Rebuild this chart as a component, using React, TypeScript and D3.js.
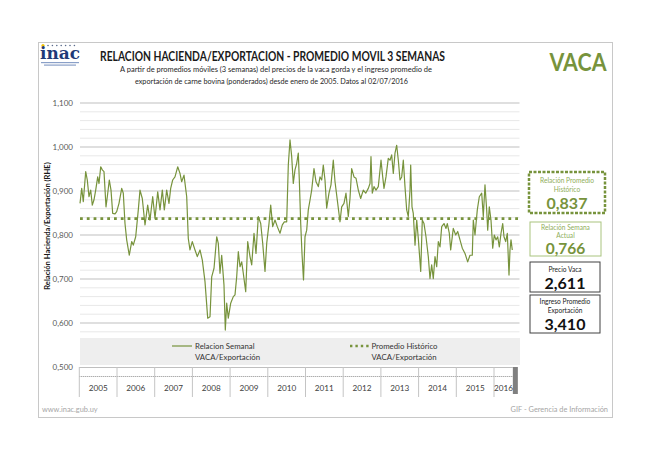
import React from 'react';
import * as d3 from 'd3';

// Weekly relation (3-week moving average): decimal year, value
const weekYears = [
  2005.019, 2005.064, 2005.106, 2005.170, 2005.212, 2005.257, 2005.302, 2005.345, 2005.390, 2005.435,
  2005.488, 2005.523, 2005.568, 2005.610, 2005.655, 2005.708, 2005.743, 2005.796, 2005.841, 2005.886,
  2005.947, 2005.992, 2006.053, 2006.125, 2006.167, 2006.212, 2006.257, 2006.326, 2006.390, 2006.432,
  2006.496, 2006.565, 2006.610, 2006.671, 2006.743, 2006.814, 2006.875, 2006.947, 2007.008, 2007.080,
  2007.141, 2007.202, 2007.255, 2007.318, 2007.379, 2007.424, 2007.477, 2007.538, 2007.610, 2007.671,
  2007.716, 2007.777, 2007.849, 2007.891, 2007.936, 2007.997, 2008.069, 2008.130, 2008.202, 2008.263,
  2008.334, 2008.406, 2008.467, 2008.512, 2008.573, 2008.645, 2008.687, 2008.732, 2008.777, 2008.838,
  2008.873, 2008.910, 2008.952, 2009.016, 2009.085, 2009.130, 2009.175, 2009.218, 2009.263, 2009.308,
  2009.350, 2009.414, 2009.467, 2009.528, 2009.573, 2009.634, 2009.687, 2009.748, 2009.812, 2009.865,
  2009.926, 2009.971, 2010.032, 2010.077, 2010.130, 2010.191, 2010.252, 2010.324, 2010.385, 2010.438,
  2010.501, 2010.544, 2010.589, 2010.634, 2010.676, 2010.721, 2010.767, 2010.809, 2010.836, 2010.873,
  2010.907, 2010.947, 2010.987, 2011.032, 2011.074, 2011.119, 2011.164, 2011.225, 2011.279, 2011.340,
  2011.385, 2011.430, 2011.472, 2011.517, 2011.562, 2011.623, 2011.676, 2011.737, 2011.783, 2011.844,
  2011.915, 2011.960, 2012.021, 2012.074, 2012.135, 2012.180, 2012.225, 2012.286, 2012.340, 2012.401,
  2012.464, 2012.533, 2012.597, 2012.666, 2012.711, 2012.737, 2012.772, 2012.817, 2012.870, 2012.931,
  2013.003, 2013.048, 2013.082, 2013.135, 2013.196, 2013.241, 2013.286, 2013.329, 2013.374, 2013.419,
  2013.462, 2013.507, 2013.552, 2013.594, 2013.639, 2013.684, 2013.727, 2013.772, 2013.790, 2013.825,
  2013.859, 2013.905, 2013.950, 2013.992, 2014.056, 2014.098, 2014.143, 2014.196, 2014.257, 2014.302,
  2014.347, 2014.390, 2014.435, 2014.480, 2014.523, 2014.568, 2014.613, 2014.674, 2014.727, 2014.761,
  2014.814, 2014.851, 2014.920, 2014.984, 2015.037, 2015.098, 2015.159, 2015.231, 2015.302, 2015.363,
  2015.424, 2015.451, 2015.496, 2015.557, 2015.610, 2015.674, 2015.716, 2015.761, 2015.806, 2015.833,
  2015.875, 2015.920, 2015.966, 2016.008, 2016.053, 2016.098, 2016.141, 2016.186, 2016.231, 2016.265,
  2016.310, 2016.353, 2016.398, 2016.424, 2016.451, 2016.485,
];
const rhe = [
  0.872, 0.906, 0.876, 0.944, 0.925, 0.887, 0.902, 0.868, 0.880, 0.902,
  0.932, 0.917, 0.955, 0.948, 0.944, 0.864, 0.887, 0.925, 0.902, 0.849,
  0.848, 0.853, 0.872, 0.906, 0.895, 0.826, 0.789, 0.754, 0.785, 0.777,
  0.796, 0.857, 0.902, 0.883, 0.823, 0.868, 0.834, 0.887, 0.838, 0.898,
  0.857, 0.902, 0.857, 0.902, 0.872, 0.906, 0.925, 0.932, 0.955, 0.940,
  0.921, 0.936, 0.887, 0.792, 0.766, 0.785, 0.766, 0.751, 0.766, 0.743,
  0.694, 0.611, 0.614, 0.705, 0.724, 0.796, 0.781, 0.713, 0.754, 0.686,
  0.584, 0.645, 0.611, 0.645, 0.660, 0.664, 0.705, 0.762, 0.728, 0.739,
  0.713, 0.671, 0.785, 0.751, 0.732, 0.804, 0.758, 0.842, 0.826, 0.781,
  0.717, 0.781, 0.826, 0.868, 0.819, 0.834, 0.819, 0.804, 0.823, 0.830,
  0.830, 0.959, 1.016, 0.978, 0.917, 0.948, 0.963, 0.986, 0.925, 0.826,
  0.758, 0.698, 0.796, 0.811, 0.857, 0.879, 0.902, 0.951, 0.921, 0.910,
  0.932, 0.925, 0.959, 0.925, 0.861, 0.895, 0.914, 0.970, 0.921, 0.879,
  0.830, 0.864, 0.872, 0.895, 0.842, 0.883, 0.951, 0.932, 0.929, 0.902,
  0.883, 0.902, 0.895, 0.906, 0.917, 0.978, 0.895, 0.910, 0.902, 0.910,
  0.970, 0.932, 0.906, 0.932, 0.974, 0.970, 0.982, 0.940, 0.986, 1.004,
  0.970, 0.925, 0.932, 0.970, 0.910, 0.857, 0.842, 0.902, 0.959, 0.864,
  0.849, 0.777, 0.834, 0.792, 0.717, 0.834, 0.826, 0.796, 0.751, 0.701,
  0.732, 0.701, 0.751, 0.728, 0.785, 0.773, 0.819, 0.826, 0.815, 0.826,
  0.804, 0.766, 0.815, 0.800, 0.808, 0.789, 0.770, 0.758, 0.739, 0.754,
  0.754, 0.834, 0.800, 0.857, 0.887, 0.895, 0.842, 0.914, 0.857, 0.811,
  0.864, 0.834, 0.770, 0.800, 0.789, 0.796, 0.773, 0.804, 0.826, 0.796,
  0.785, 0.804, 0.709, 0.766, 0.789, 0.766,
];
const historicalAverage = 0.837;
const yearLabels = ['2005', '2006', '2007', '2008', '2009', '2010', '2011', '2012', '2013', '2014', '2015', '2016'];
const yTickValues = [0.5, 0.6, 0.7, 0.8, 0.9, 1.0, 1.1];
const statTitles = [['Relación Promedio', 'Histórico'], ['Relación Semana', 'Actual'], ['Precio Vaca'], ['Ingreso Promedio', 'Exportación']];
const statValues = ['0,837', '0,766', '2,611', '3,410'];

const GREEN = '#77933C';
const FONT = 'Lato, "Open Sans", sans-serif';

export default function App() {
  const x = d3.scaleLinear().domain([2005, 2016.5]).range([79.3, 512.85]);
  const y = d3.scaleLinear().domain([0.5, 1.1]).range([367, 103]);
  const plotLeft = 80;
  const plotRight = 519.5;
  const line = d3.line<number>().x((_, i) => x(weekYears[i])).y((d) => y(d)).curve(d3.curveLinear);
  const grid = y.ticks(30).filter((v) => v > 0.5);
  const fmt = (v: number) => v.toFixed(3).replace('.', ',');

  const boxes = [
    { x: 529, y: 172, w: 76, h: 41, stroke: GREEN, sw: 2.5, dash: '3 1.5', color: GREEN, titleColor: '#8fae5a', ty: [183, 192], vy: 209, vs: 16 },
    { x: 530, y: 222, w: 71, h: 34, stroke: '#a9c47f', sw: 1, dash: undefined, color: GREEN, titleColor: '#8fae5a', ty: [229.5, 237.5], vy: 254, vs: 15.5 },
    { x: 530, y: 262, w: 70, h: 30, stroke: '#404040', sw: 1, dash: undefined, color: '#111', titleColor: '#222', ty: [272], vy: 289, vs: 16 },
    { x: 530, y: 295, w: 70, h: 38, stroke: '#404040', sw: 1, dash: undefined, color: '#111', titleColor: '#222', ty: [303.5, 312.5], vy: 330, vs: 16 },
  ];

  return (
    <svg width={658} height={465} style={{ position: 'absolute', left: 0, top: 0, background: '#fff' }} fontFamily={FONT}>
      <rect x={0} y={0} width={658} height={465} fill="#fff" />
      {/* outer frame */}
      <rect x={38.5} y={42.5} width={574} height={375} fill="none" stroke="#c8c8c8" strokeWidth={1} />

      {/* logo */}
      <g>
        <circle cx={43} cy={45.5} r={1.6} fill="#f2c200" />
        {[0, 1, 2, 3, 4, 5, 6].map((i) => (
          <circle key={i} cx={48 + i * 4.4} cy={45.5} r={0.8} fill="#5a6b8c" />
        ))}
        <text x={40} y={59} fontFamily="'DejaVu Serif', 'Liberation Serif', serif" fontWeight="bold" fontSize={17} fill="#1f3a78" textLength={40} lengthAdjust="spacingAndGlyphs">inac</text>
        <rect x={41} y={62} width={38} height={1.2} fill="#8aa0c8" />
        <rect x={44} y={64.5} width={32} height={1.2} fill="#8aa0c8" />
      </g>

      {/* title */}
      <text x={272.5} y={61} textAnchor="middle" fontWeight="bold" fontSize={13} fill="#1a1a1a" textLength={345} lengthAdjust="spacingAndGlyphs">RELACION HACIENDA/EXPORTACION - PROMEDIO MOVIL 3 SEMANAS</text>
      <text x={276} y={72} textAnchor="middle" fontSize={8.4} fill="#262626" textLength={312} lengthAdjust="spacingAndGlyphs">A partir de promedios móviles (3 semanas) del precios de la vaca gorda y el ingreso promedio de</text>
      <text x={271.5} y={84} textAnchor="middle" fontSize={8.4} fill="#262626" textLength={273} lengthAdjust="spacingAndGlyphs">exportación de carne bovina (ponderados) desde enero de 2005. Datos al 02/07/2016</text>
      <text x={578} y={71} textAnchor="middle" fontWeight="bold" fontSize={24} fill={GREEN} textLength={57} lengthAdjust="spacingAndGlyphs">VACA</text>

      {/* grid */}
      {grid.map((v) => {
        const major = Math.round(v * 100) % 10 === 0;
        return (
          <line key={v} x1={plotLeft} x2={plotRight} y1={y(v)} y2={y(v)} stroke={major ? '#d4d4d4' : '#e8e8e8'} strokeWidth={major ? 1.3 : 1} />
        );
      })}

      {/* y axis labels */}
      {yTickValues.map((v) => (
        <text key={v} x={73} y={y(v) + 3} textAnchor="end" fontSize={8} fill="#595959">{fmt(v)}</text>
      ))}
      <text transform="translate(50,226) rotate(-90)" textAnchor="middle" fontSize={7.6} fontWeight="bold" fill="#1a1a1a">Relación Hacienda/Exportación (RHE)</text>

      {/* historical average */}
      <line x1={plotLeft} x2={plotRight} y1={y(historicalAverage)} y2={y(historicalAverage)} stroke={GREEN} strokeWidth={2.8} strokeDasharray="2.8 4" />

      {/* series */}
      <path d={line(rhe) || ''} fill="none" stroke={GREEN} strokeWidth={1.2} strokeLinejoin="round" />

      {/* legend band */}
      <rect x={80} y={338} width={440} height={27} fill="#eeeeee" />
      <line x1={172} x2={192} y1={346} y2={346} stroke={GREEN} strokeWidth={1.2} />
      <text x={195} y={349} fontSize={7.8} fill="#333">Relacion Semanal</text>
      <text x={195} y={360} fontSize={7.8} fill="#333">VACA/Exportación</text>
      <line x1={350} x2={370} y1={346} y2={346} stroke={GREEN} strokeWidth={2.4} strokeDasharray="2.4 3" />
      <text x={371.5} y={349} fontSize={7.8} fill="#333">Promedio Histórico</text>
      <text x={371.5} y={360} fontSize={7.8} fill="#333">VACA/Exportación</text>

      {/* x axis box */}
      <line x1={x(2005)} x2={x(2016.5)} y1={367.5} y2={367.5} stroke="#bfbfbf" />
      <line x1={x(2005)} x2={x(2016.5)} y1={376.5} y2={376.5} stroke="#8c8c8c" strokeDasharray="1 1" />
      {d3.range(2005, 2017).map((yr) => (
        <line key={yr} x1={x(yr)} x2={x(yr)} y1={367} y2={397} stroke="#c4c4c4" />
      ))}
      {yearLabels.map((lab, i) => {
        const start = 2005 + i;
        const end = Math.min(start + 1, 2016.5);
        return (
          <text key={lab} x={(x(start) + x(end)) / 2} y={391} textAnchor="middle" fontSize={8.2} fill="#404040">{lab}</text>
        );
      })}
      <rect x={x(2016.5)} y={367} width={5} height={27} fill="#808080" />

      {/* stat boxes */}
      {boxes.map((b, i) => (
        <g key={i}>
          <rect x={b.x} y={b.y} width={b.w} height={b.h} fill="#fff" stroke={b.stroke} strokeWidth={b.sw} strokeDasharray={b.dash} />
          {statTitles[i].map((t, j) => (
            <text key={j} x={b.x + b.w / 2} y={b.ty[j]} textAnchor="middle" fontSize={6.6} fill={b.titleColor}>{t}</text>
          ))}
          <text x={b.x + b.w / 2} y={b.vy} textAnchor="middle" fontSize={b.vs} fontWeight="bold" fill={b.color}>{statValues[i]}</text>
        </g>
      ))}

      {/* footer */}
      <text x={42} y={412} fontSize={7.4} fill="#a6a6a6">www.inac.gub.uy</text>
      <text x={608} y={412} textAnchor="end" fontSize={7.4} fill="#a6a6a6">GIF - Gerencia de Información</text>
    </svg>
  );
}
